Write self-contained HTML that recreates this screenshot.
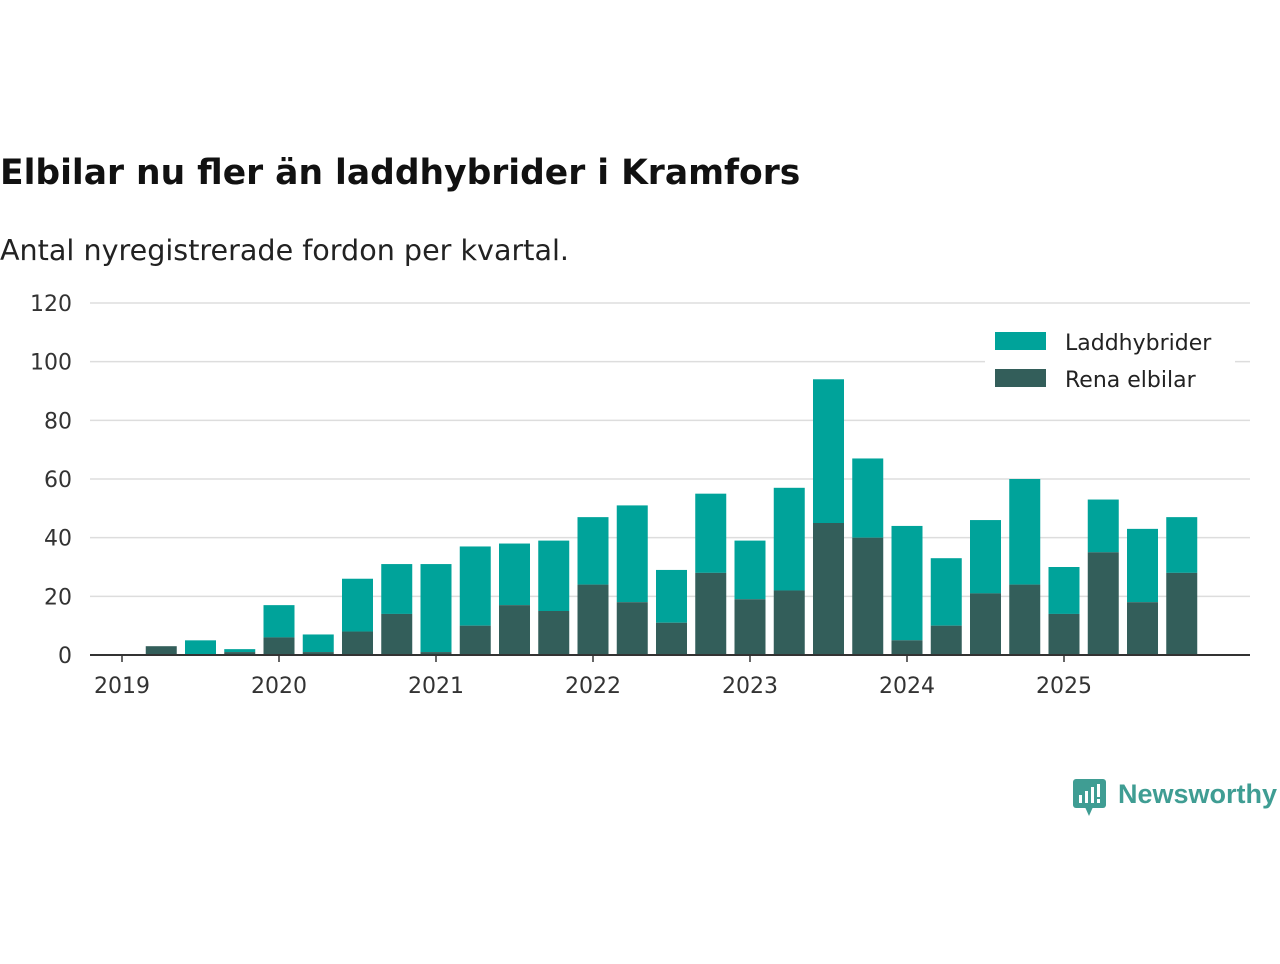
<!DOCTYPE html>
<html><head><meta charset="utf-8"><style>
body{margin:0;width:1280px;height:960px;background:#fff;font-family:"DejaVu Sans","Liberation Sans",sans-serif;overflow:hidden}
</style></head><body>
<svg width="1280" height="960" xmlns="http://www.w3.org/2000/svg" id="chart">
<text x="0" y="184" font-size="34.5" font-weight="bold" fill="#111">Elbilar nu fler än laddhybrider i Kramfors</text>
<text x="0" y="260" font-size="28.6" fill="#222">Antal nyregistrerade fordon per kvartal.</text>
<g id="grid"></g><g id="bars"></g><g id="axes"></g>
<g>
<rect x="985" y="322" width="250" height="78" fill="#fff"/>
<rect x="995" y="332" width="51" height="18" fill="#00a39a"/>
<text x="1065" y="350" font-size="22" fill="#222">Laddhybrider</text>
<rect x="995" y="369" width="51" height="18" fill="#335e5a"/>
<text x="1065" y="387" font-size="22" fill="#222">Rena elbilar</text>
</g>
<g>
<rect x="1073" y="779" width="33" height="29" rx="3" fill="#3f9d93"/>
<polygon points="1085,807 1093,807 1089,816" fill="#3f9d93"/>
<rect x="1079" y="795" width="3" height="8" fill="#fff"/><rect x="1085" y="791" width="3" height="12" fill="#fff"/><rect x="1091" y="787" width="3" height="16" fill="#fff"/><rect x="1097" y="784" width="3" height="13" fill="#fff"/><rect x="1097" y="799" width="3" height="4" fill="#fff"/>
<text x="1118" y="803" font-size="27" font-weight="bold" font-family="Liberation Sans, sans-serif" fill="#3f9d93">Newsworthy</text>
</g>
</svg>
<script>
const totals=[3,5,2,17,7,26,31,31,37,38,39,47,51,29,55,39,57,94,67,44,33,46,60,30,53,43,47];
const elbilar=[3,0,1,6,1,8,14,1,10,17,15,24,18,11,28,19,22,45,40,5,10,21,24,14,35,18,28];
const yTicks=[0,20,40,60,80,100,120];
const years=[2019,2020,2021,2022,2023,2024,2025];
const NS="http://www.w3.org/2000/svg";
const y=v=>655-v*352/120;
const x=q=>122+q*39.25;
function mk(t,a,p){const e=document.createElementNS(NS,t);for(const k in a)e.setAttribute(k,a[k]);p.appendChild(e);return e;}
const grid=document.getElementById('grid'),bars=document.getElementById('bars'),axes=document.getElementById('axes');
yTicks.forEach(v=>{
 if(v>0){const l=mk('line',{x1:90,x2:1250,y1:y(v),y2:y(v),stroke:'#ddd','stroke-width':1.5},grid);
 
 }
 const t=mk('text',{x:72,y:y(v)+8,'font-size':22,fill:'#333','text-anchor':'end'},grid);t.textContent=v;
 
 
});
totals.forEach((tot,i)=>{
 const cx=x(i+1),el=elbilar[i];
 const a=mk('rect',{x:cx-15.5,width:31,y:y(tot),height:y(el)-y(tot),fill:'#00a39a'},bars);
 
 
 const b=mk('rect',{x:cx-15.5,width:31,y:y(el),height:655-y(el),fill:'#335e5a'},bars);
 
 
});
const ax=mk('line',{x1:90,x2:1250,y1:655,y2:655,stroke:'#333','stroke-width':2},axes);


years.forEach((yr,i)=>{
 const cx=x(i*4);
 mk('line',{x1:cx,x2:cx,y1:655,y2:662,stroke:'#333','stroke-width':1.5},axes);
 const t=mk('text',{x:cx,y:693,'font-size':22,fill:'#333','text-anchor':'middle'},axes);t.textContent=yr;
 
 
});
</script>
</body></html>
